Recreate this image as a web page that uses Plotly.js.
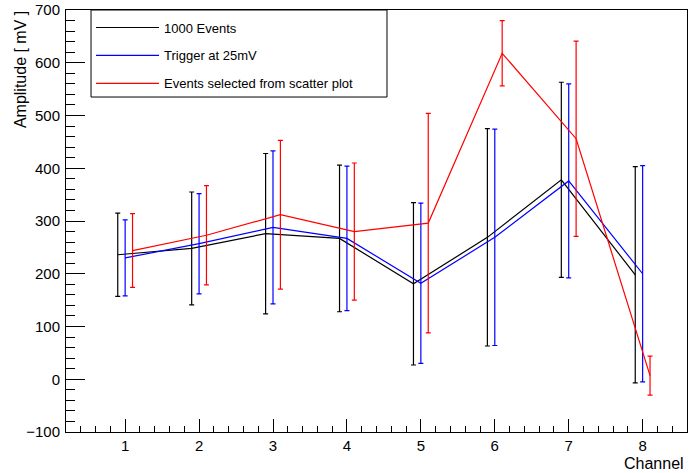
<!DOCTYPE html>
<html>
<head>
<meta charset="utf-8">
<script src="https://cdn.plot.ly/plotly-3.0.1.min.js"></script>
<style>
  html, body { margin: 0; padding: 0; background: #fff; }
  #chart { width: 689px; height: 473px; }
</style>
</head>
<body>
<div id="chart"></div>
<script>
// Channel numbers and the horizontal offsets used to keep the three series apart
const channels = [1, 2, 3, 4, 5, 6, 7, 8];
const seriesOffsets = [-0.1, 0, 0.1];

// Mean amplitude per channel [mV] and its spread
const allEventsMean = [236, 248, 276, 267, 181, 269, 378, 198];
const allEventsErr = [79, 107, 152, 139, 154, 206, 185, 205];

const triggerMean = [230, 257, 288, 267, 182, 269, 376, 200];
const triggerErr = [72, 95, 145, 137, 152, 205, 184, 205];

const scatterMean = [244, 273, 312, 280, 296, 618, 456, 7];
const scatterErr = [70, 94, 141, 130, 208, 62, 185, 37];

const seriesNames = ['1000 Events', 'Trigger at 25mV', 'Events selected from scatter plot'];
const seriesColors = ['#000000', '#0000ff', '#ff0000'];

const xTickVals = [1, 2, 3, 4, 5, 6, 7, 8];
const xTickText = ['1', '2', '3', '4', '5', '6', '7', '8'];

const FONT = '"Liberation Sans", Arial, Helvetica, sans-serif';

function makeTrace(i, means, errs) {
  return {
    type: 'scatter',
    mode: 'lines',
    name: seriesNames[i],
    legendgroup: 'g' + i,
    x: channels.map(c => c + seriesOffsets[i]),
    y: means,
    line: { color: seriesColors[i], width: 1.2 },
    error_y: {
      type: 'data',
      array: errs,
      visible: true,
      color: seriesColors[i],
      thickness: 1.2,
      width: 2.5
    },
    hoverinfo: 'x+y'
  };
}

const data = [
  makeTrace(0, allEventsMean, allEventsErr),
  makeTrace(1, triggerMean, triggerErr),
  makeTrace(2, scatterMean, scatterErr)
];

const layout = {
  width: 689,
  height: 473,
  margin: { l: 66, r: 2, t: 10, b: 41, pad: 0 },
  paper_bgcolor: '#ffffff',
  plot_bgcolor: '#ffffff',
  font: { family: FONT, size: 15, color: '#000' },
  showlegend: true,
  legend: {
    x: 0.0403, y: 0.994, xanchor: 'left', yanchor: 'top',
    bgcolor: 'rgba(0,0,0,0)',
    borderwidth: 0,
    font: { family: FONT, size: 13, color: '#000' },
    traceorder: 'grouped',
    tracegroupgap: 8,
    itemwidth: 63
  },
  // wide frame drawn behind the legend entries
  shapes: [
    {
      type: 'rect', xref: 'paper', yref: 'paper', layer: 'above',
      x0: 0.0403, x1: 0.5169, y0: 0.7938, y1: 1,
      line: { color: '#000', width: 1 },
      fillcolor: 'rgba(255,255,255,0)'
    }
  ],
  xaxis: {
    range: [0.2, 8.6],
    tickmode: 'array',
    tickvals: xTickVals,
    ticktext: xTickText,
    ticks: 'inside',
    ticklen: 12.6,
    tickwidth: 1,
    tickcolor: '#000',
    ticklabelstandoff: 0,
    minor: { ticks: 'inside', dtick: 0.2, tick0: 0, ticklen: 6.3, tickwidth: 1, tickcolor: '#000' },
    showgrid: false,
    zeroline: false,
    showline: true,
    linecolor: '#000',
    linewidth: 1,
    mirror: true,
    tickfont: { size: 15 }
  },
  yaxis: {
    range: [-100, 700],
    dtick: 100,
    tick0: 0,
    ticks: 'inside',
    ticklen: 18.6,
    tickwidth: 1,
    tickcolor: '#000',
    ticklabelstandoff: 2,
    minor: { ticks: 'inside', dtick: 20, tick0: 0, ticklen: 9.3, tickwidth: 1, tickcolor: '#000' },
    showgrid: false,
    zeroline: false,
    showline: true,
    linecolor: '#000',
    linewidth: 1,
    mirror: true,
    tickfont: { size: 15 }
  },
  annotations: [
    {
      text: 'Amplitude [ mV ]',
      xref: 'paper', yref: 'paper',
      x: -0.0740, y: 1.001,
      xanchor: 'center', yanchor: 'top',
      textangle: -90,
      showarrow: false,
      font: { family: FONT, size: 16, color: '#000' }
    },
    {
      text: 'Channel',
      xref: 'paper', yref: 'paper',
      x: 0.999, y: -0.0746,
      xanchor: 'right', yanchor: 'middle',
      showarrow: false,
      font: { family: FONT, size: 16, color: '#000' }
    }
  ]
};

Plotly.newPlot('chart', data, layout, { displayModeBar: false, staticPlot: true });
</script>
</body>
</html>
